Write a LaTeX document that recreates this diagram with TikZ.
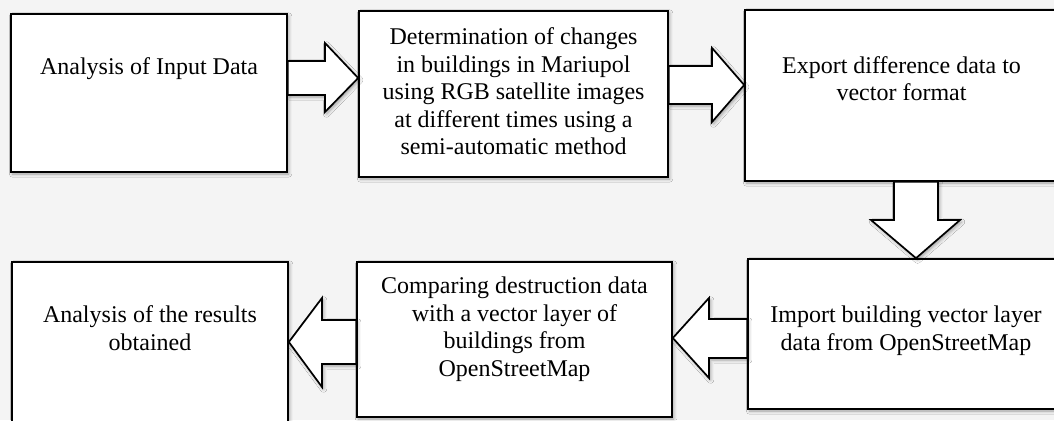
\documentclass[tikz,border=0pt]{standalone}
\usepackage{fontspec}
\setmainfont{Liberation Serif}
\usepackage{xcolor}
\usetikzlibrary{shadows.blur}

\definecolor{pagegray}{RGB}{244,244,244}

\tikzset{
  stepbox/.style={draw=black, line width=0.85pt, fill=white,
    blur shadow={shadow xshift=0.8pt, shadow yshift=-1pt, shadow blur radius=1.6pt, shadow opacity=35}},
  steptext/.style={align=center, inner sep=0pt, font=\fontsize{12}{13.75}\selectfont},
  flowarrow/.style={draw=black, line width=0.85pt, fill=white, line join=miter,
    blur shadow={shadow xshift=0.8pt, shadow yshift=-1pt, shadow blur radius=1.6pt, shadow opacity=35}}
}

\begin{document}
\begin{tikzpicture}[x=0.5pt, y=-0.5pt]
        % Page
        \clip (0,0) rectangle (1054,420);
        \fill[pagegray] (0,0) rectangle (1054,420);

        % Steps, top row
        \node[stepbox, minimum width=138pt, minimum height=79pt] (in) at (149,93) {};
        \node[stepbox, minimum width=154.5pt, minimum height=83pt] (change) at (513.5,94) {};
        \node[stepbox, minimum width=156.5pt, minimum height=85.5pt] (export) at (901.5,95.5) {};

        % Steps, bottom row
        \node[stepbox, minimum width=158pt, minimum height=75pt] (import) at (906,334) {};
        \node[stepbox, minimum width=157.5pt, minimum height=77.5pt] (compare) at (514.5,339.5) {};
        \node[stepbox, minimum width=138pt, minimum height=82pt] (result) at (150,344) {};

        % Step texts
        \node[steptext] (inText) at (149,68.5) {Analysis of Input Data};
        \node[steptext] (changeText) at (513.5,91.5) {Determination of changes\\in buildings in Mariupol\\using RGB satellite images\\at different times using a\\semi-automatic method};
        \node[steptext] (exportText) at (901.5,78.5) {Export difference data to\\vector format};
        \node[steptext] (importText) at (906,330.5) {Import building vector layer\\data from OpenStreetMap};
        \node[steptext] (compareText) at (514.5,329) {Comparing destruction data\\with a vector layer of\\buildings from\\OpenStreetMap};
        \node[steptext] (resultText) at (150,328) {Analysis of the results\\obtained};

        % Block arrows
        \draw[flowarrow] (in.east |- 0,61) -- (325,61) -- (325,43) -- (change.west |- 0,78)
            -- (325,112) -- (325,95) -- (in.east |- 0,95) -- cycle;
        \draw[flowarrow] (change.east |- 0,66) -- (712,66) -- (712,48) -- (export.west |- 0,85)
            -- (712,122) -- (712,104) -- (change.east |- 0,104) -- cycle;
        \draw[flowarrow] (export.south -| 894,0) -- (894,220) -- (871,220) -- (import.north -| 916,0)
            -- (960,220) -- (938,220) -- (export.south -| 938,0) -- cycle;
        \draw[flowarrow] (import.west |- 0,319) -- (709,319) -- (709,298) -- (compare.east |- 0,338)
            -- (709,378) -- (709,358) -- (import.west |- 0,358) -- cycle;
        \draw[flowarrow] (compare.west |- 0,320) -- (322,320) -- (322,298) -- (result.east |- 0,342)
            -- (322,387) -- (322,364) -- (compare.west |- 0,364) -- cycle;

    \end{tikzpicture}
\end{document}
